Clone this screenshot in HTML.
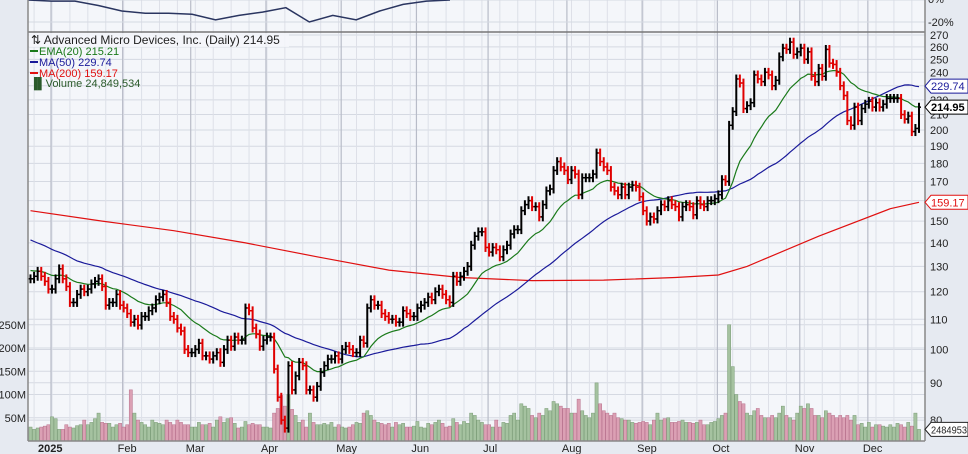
<!DOCTYPE html>
<html><head><meta charset="utf-8"><style>
html,body{margin:0;padding:0;background:#fff}
svg{display:block;font-family:"Liberation Sans",sans-serif}
</style></head><body>
<svg id="chart" width="968" height="454" viewBox="0 0 968 454" xmlns="http://www.w3.org/2000/svg">
<rect x="0" y="0" width="968" height="454" fill="#e6eaf1"/>
<rect x="28" y="0" width="897" height="441" fill="#f4f6fa"/>
<g id="grid"></g>
<g id="vol"></g>
<g id="lines"></g>
<g id="bars"></g>
<g id="axes"></g>
<g font-size="11">
 <rect x="29" y="33" width="260" height="14" fill="#f4f6fa" opacity="0.85"/>
 <text x="31" y="44" fill="#222" font-size="12">⇅ Advanced Micro Devices, Inc. (Daily) 214.95</text>
 <rect x="30" y="50" width="8" height="2" fill="#1a7a1a"/>
 <text x="39" y="55" fill="#1a7a1a">EMA(20) 215.21</text>
 <rect x="30" y="61" width="8" height="2" fill="#1a1a9a"/>
 <text x="39" y="66" fill="#1a1a9a">MA(50) 229.74</text>
 <rect x="30" y="72" width="8" height="2" fill="#e01010"/>
 <text x="39" y="77" fill="#e01010">MA(200) 159.17</text>
 <text x="30" y="87" fill="#2a5a2a">▐▌Volume 24,849,534</text>
</g>
</svg>
<script>
const prior = [168,163,160,156,157,159,160,161,155,154,157,156,158,156,145,144,139,141,143,142,148,152,146,146,141,140,137,138,139,136,138,137,135,137,138,140,137,136,133,136,132,127,127,125,123,123,125,121,121,123];
const closes = [125,126,128,126,124,121,
121,125,129,125,122,116,116,119,121,120,121,123,124,125,122,115,116,116,119,115,
114,112,109,110,108,111,111,113,114,117,118,119,116,111,110,107,106,100,99,
99,100,102,98,98,97,98,99,96,100,103,101,104,103,103,114,113,107,105,101,103,
104,104,94,86,80,78,95,88,92,96,95,88,88,86,89,93,95,97,97,98,97,
100,101,100,99,99,103,102,114,117,115,115,112,111,110,110,109,109,113,112,111,111,
114,115,116,118,117,120,121,119,117,116,126,124,126,128,130,139,143,145,145,138,
136,138,137,134,137,139,144,146,146,155,158,160,157,157,152,158,165,166,176,181,178,176,
171,176,174,163,172,172,172,174,186,181,178,176,167,165,163,167,163,167,168,167,162,
155,150,152,151,155,158,157,160,158,157,152,157,158,157,153,160,158,157,160,160,161,
163,171,170,203,212,235,232,214,216,218,238,235,233,240,238,230,234,252,259,258,264,254,256,
259,250,256,237,233,243,237,258,247,246,240,230,223,206,203,215,206,214,217,
219,215,218,215,217,221,221,221,221,210,207,209,199,201,214.95];
const volumes = [30,25,28,30,32,35,
52,48,25,25,35,30,28,33,35,45,35,40,48,60,40,38,38,30,35,38,
30,35,110,60,45,40,35,30,45,40,38,35,45,40,35,45,40,35,35,
30,30,40,35,35,38,30,45,52,40,48,50,38,28,30,42,35,38,35,35,30,
30,28,60,70,98,75,100,68,55,40,45,30,60,40,35,35,38,35,40,30,35,
30,28,30,35,40,38,60,65,55,45,40,38,35,38,30,40,35,38,30,30,32,
42,30,28,38,35,40,45,38,30,32,48,40,35,42,38,60,55,45,40,35,
35,30,45,30,40,38,55,60,45,80,75,70,55,50,60,55,70,65,85,80,75,70,
70,60,60,90,65,55,50,60,125,80,65,60,55,60,50,48,45,45,40,38,40,
42,40,35,45,60,45,48,50,40,40,42,45,40,40,38,40,45,35,35,40,42,
48,55,60,250,160,100,85,80,60,55,65,70,55,50,50,55,50,60,75,55,50,45,60,
75,70,80,70,55,55,50,65,60,55,50,55,50,55,45,55,35,38,30,
40,30,35,35,32,30,35,30,38,35,30,40,32,60,25];
const ma200Idx = [0,20,40,60,80,100,120,140,160,180,192,200,220,240,248];
const ma200Samples = [155,150,145.5,140,134,128.5,125.5,124.3,124.5,125.5,126.5,130,143,156,159.17];
const perfValues = [0,-1,-1,-5,-10,-12,-12,-13,-18,-14,-11,-7,-20,-14,-18,-10,-4,-1,0];
const priceTicks = [80,90,100,110,120,130,140,150,160,170,180,190,200,210,220,230,240,250,260,270];
const volTicks = [50,100,150,200,250];
const monthLabels = ["2025","Feb","Mar","Apr","May","Jun","Jul","Aug","Sep","Oct","Nov","Dec"];
const monthStartIdx = [6,26,45,66,87,108,128,150,171,192,215,234];

const NS="http://www.w3.org/2000/svg";
const n=closes.length;
const X0=30.5, XSTEP=(919-30.5)/(n-1);
const xAt=i=>X0+i*XSTEP;
const yP=p=>130-729*Math.log10(p/200);
const VB=441, VS=0.465;
const yV=v=>VB-v*VS;
function mk(tag,attrs,parent){const e=document.createElementNS(NS,tag);for(const k in attrs)e.setAttribute(k,attrs[k]);parent.appendChild(e);return e;}
const grid=document.getElementById('grid'),vol=document.getElementById('vol'),lines=document.getElementById('lines'),bars=document.getElementById('bars'),axes=document.getElementById('axes');

priceTicks.forEach(p=>{const l=mk('line',{x1:28,x2:925,y1:yP(p),y2:yP(p),stroke:'#d5d9e2','stroke-width':1},grid);

});
volTicks.forEach(v=>{const l=mk('line',{x1:28,x2:925,y1:yV(v),y2:yV(v),stroke:'#d5d9e2','stroke-width':1},grid);

});
for(let i=monthStartIdx[0]%5;i<n;i+=5){const l=mk('line',{x1:xAt(i),x2:xAt(i),y1:0,y2:441,stroke:'#dde0e8','stroke-width':1},grid);

}
monthStartIdx.forEach(i=>{const l=mk('line',{x1:xAt(i)-1,x2:xAt(i)-1,y1:0,y2:441,stroke:'#b8bcc8','stroke-width':1.2},grid);

});
[0,22].forEach(y=>{mk('line',{x1:28,x2:925,y1:y,y2:y,stroke:'#d5d9e2'},grid);});
const sep=mk('line',{x1:28,x2:925,y1:32,y2:32,stroke:'#777','stroke-width':1.5},grid);



let pts=perfValues.map((v,k)=>[28+k*(422/(perfValues.length-1)),Math.max(0,-v*1.1)]);
const pl=mk('polyline',{points:pts.map(p=>p.join(',')).join(' '),fill:'none',stroke:'#2a3560','stroke-width':1.5},lines);



for(let i=0;i<n;i++){const up=i===0||closes[i]>=closes[i-1];
const r=mk('rect',{x:xAt(i)-1.6,y:yV(volumes[i]),width:3.2,height:volumes[i]*VS,fill:up?'#a5c2a0':'#dba0b4',stroke:up?'#7a9c76':'#b8708c','stroke-width':0.5},vol);

}

const all=prior.concat(closes);const off=prior.length;
let ema=prior.slice(-20).reduce((a,b)=>a+b,0)/20;const k=2/21;const emaPts=[],ma50Pts=[];
for(let j=off-30;j<all.length;j++){ema=all[j]*k+ema*(1-k);if(j>=off)emaPts.push([xAt(j-off),yP(ema)]);}
for(let i=0;i<n;i++){let s=0;for(let j=off+i-49;j<=off+i;j++)s+=all[j];ma50Pts.push([xAt(i),yP(s/50)]);}
const ma200Pts=ma200Samples.map((v,s)=>[xAt(ma200Idx[s]),yP(v)]);
[[ma200Pts,'#e01010','ma200-line'],[ma50Pts,'#1a1a9a','ma50-line'],[emaPts,'#1a7a1a','ema20-line']].forEach(([p,c,nm])=>{
const e=mk('polyline',{points:p.map(q=>q[0].toFixed(1)+','+q[1].toFixed(1)).join(' '),fill:'none',stroke:c,'stroke-width':1.2},lines);

});

for(let i=0;i<n;i++){const c=closes[i],o=i===0?c:closes[i-1];const hi=Math.max(o,c)*1.014,lo=Math.min(o,c)*0.986;
const col=(i===0||c>=o)?'#000':'#e00000';const x=xAt(i);
const g=mk('g',{stroke:col,'stroke-width':2},bars);


mk('line',{x1:x,x2:x,y1:yP(hi),y2:yP(lo)},g);
mk('line',{x1:x-2,x2:x,y1:yP(o),y2:yP(o),'stroke-width':1.5},g);
mk('line',{x1:x,x2:x+2,y1:yP(c),y2:yP(c),'stroke-width':1.5},g);}

mk('rect',{x:925,y:0,width:43,height:454,fill:'#e6eaf1'},axes);
mk('line',{x1:925,x2:925,y1:0,y2:441,stroke:'#888','stroke-width':1.5},axes);
mk('line',{x1:28,x2:28,y1:0,y2:441,stroke:'#888','stroke-width':1.5},axes);
mk('line',{x1:28,x2:925,y1:441,y2:441,stroke:'#888','stroke-width':1.5},axes);
priceTicks.forEach(p=>{const t=mk('text',{x:930,y:yP(p)+4,'font-size':11,fill:'#222'},axes);t.textContent=p;

});
[['0%',3],['-20%',26]].forEach(([s,y])=>{const t=mk('text',{x:928,y:y,'font-size':11,fill:'#222'},axes);t.textContent=s;

});
volTicks.forEach(v=>{const t=mk('text',{x:26,y:yV(v)+4,'font-size':11,fill:'#222','text-anchor':'end'},axes);t.textContent=v+'M';

});
monthLabels.forEach((m,j)=>{const t=mk('text',{x:xAt(monthStartIdx[j])+(j===0?-14:-6),y:452,'font-size':11,fill:'#222','font-weight':j===0?'bold':'normal'},axes);t.textContent=m;

});
function tag(y,txt,col,bold,nm,small){const g=mk('g',{},axes);


mk('polygon',{points:`925,${y} 931,${y-7} 968,${y-7} 968,${y+7} 931,${y+7}`,fill:'#fff',stroke:col,'stroke-width':1},g);
const attrs={x:931,y:y+4,'font-size':small?10:11,fill:col,'font-weight':bold?'bold':'normal'};
if(small){attrs.textLength=36;attrs.lengthAdjust='spacingAndGlyphs';}
const t=mk('text',attrs,g);t.textContent=txt;}
tag(yP(229.74),'229.74','#1a1a9a',false,'ma50-price-tag',false);
tag(yP(214.95),'214.95','#000',true,'last-price-tag',false);
tag(yP(159.17),'159.17','#e01010',false,'ma200-price-tag',false);
tag(yV(25),'2484953','#222',false,'volume-tag',true);
</script>
</body></html>
